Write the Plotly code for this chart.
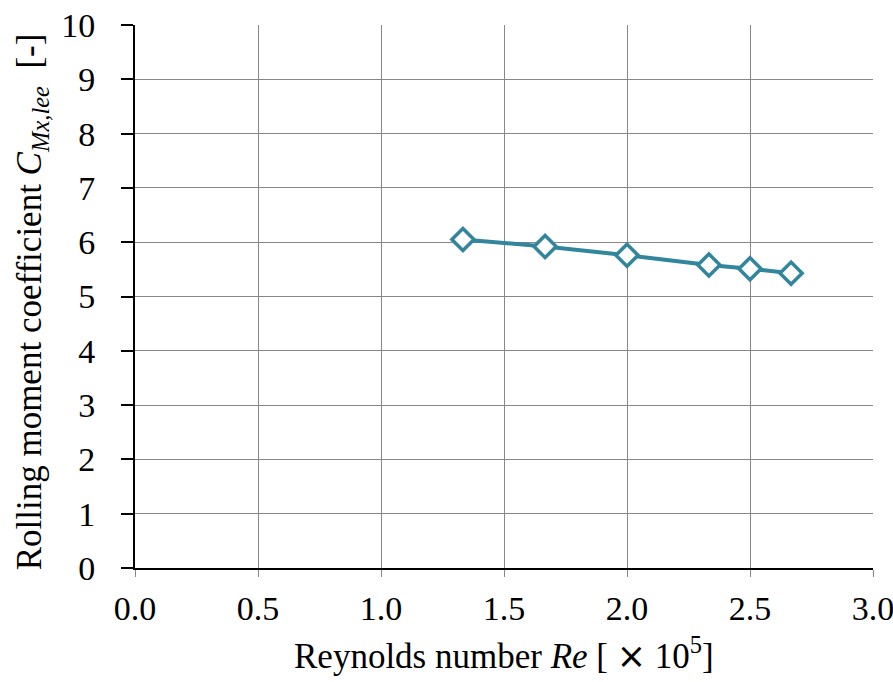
import plotly.graph_objects as go

re_vals = [1.333, 1.667, 2.0, 2.333, 2.5, 2.667]
cmx_vals = [6.05, 5.92, 5.76, 5.58, 5.51, 5.43]

x_ticks = [0.0, 0.5, 1.0, 1.5, 2.0, 2.5, 3.0]
x_tick_text = ["0.0", "0.5", "1.0", "1.5", "2.0", "2.5", "3.0"]
y_ticks = list(range(0, 11))

x_title = "Reynolds number <i>Re</i> [ <span style='font-family:DejaVu Sans'>\u00d7</span> 10<sup>5</sup>]"
y_title = "Rolling moment coefficient <i>C</i><sub><i>Mx,lee</i></sub>  [-]"

color = "#31859C"
font = "Liberation Serif"
fs = 34
fs_title = 35

fig = go.Figure()
fig.add_trace(go.Scatter(
    x=re_vals, y=cmx_vals, mode="lines+markers",
    line=dict(color=color, width=4),
    marker=dict(symbol="diamond", size=17, color="white",
                line=dict(color=color, width=3.5)),
    showlegend=False,
))

fig.update_layout(
    width=893, height=682,
    margin=dict(l=135, r=20, t=25, b=114),
    plot_bgcolor="white", paper_bgcolor="white",
    font=dict(family=font, size=fs, color="black"),
    xaxis=dict(
        range=[0, 3], tickvals=x_ticks, ticktext=x_tick_text,
        showgrid=True, gridcolor="#878787", gridwidth=1.3,
        showline=True, linecolor="black", linewidth=2,
        ticks="outside", ticklen=7, tickwidth=1.3, tickcolor="#878787",
        zeroline=False, automargin=False, ticklabelstandoff=2,
        ticklabeloverflow="allow",
        tickfont=dict(family=font, size=fs),
    ),
    yaxis=dict(
        range=[0, 10], tickvals=y_ticks,
        showgrid=True, gridcolor="#878787", gridwidth=1.3,
        showline=True, linecolor="black", linewidth=2,
        ticks="outside", ticklen=12, tickwidth=2, tickcolor="black",
        zeroline=False, automargin=False, ticklabelstandoff=19,
        ticklabeloverflow="allow",
        tickfont=dict(family=font, size=fs),
    ),
    annotations=[
        dict(text=x_title, xref="paper", yref="paper", x=0.5, y=-0.158,
             xanchor="center", yanchor="middle", showarrow=False,
             font=dict(family=font, size=fs_title)),
        dict(text=y_title, xref="paper", yref="paper", x=-0.139, y=0.49,
             xanchor="center", yanchor="middle", showarrow=False, textangle=-90,
             font=dict(family=font, size=fs_title)),
    ],
)

fig.write_html("out.html")
